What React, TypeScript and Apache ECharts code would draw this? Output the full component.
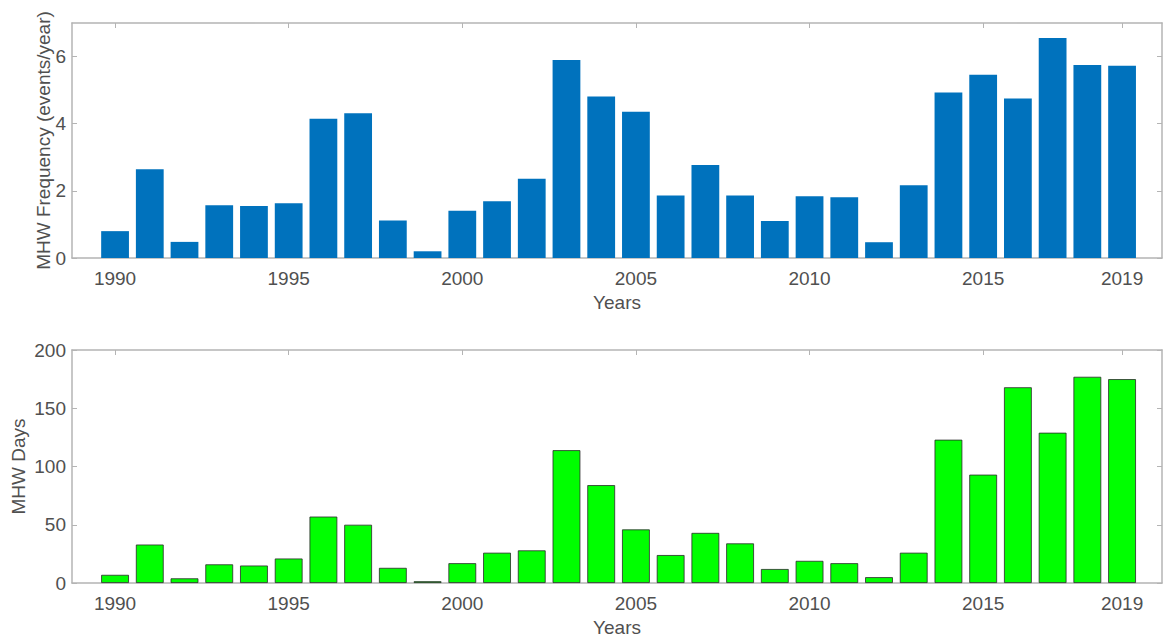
import React, { useEffect, useRef } from "react";
import * as echarts from "echarts";

const years = [1990, 1991, 1992, 1993, 1994, 1995, 1996, 1997, 1998, 1999, 2000, 2001, 2002, 2003, 2004, 2005, 2006, 2007, 2008, 2009, 2010, 2011, 2012, 2013, 2014, 2015, 2016, 2017, 2018, 2019];
const frequency = [0.8, 2.64, 0.48, 1.57, 1.55, 1.63, 4.15, 4.31, 1.12, 0.2, 1.41, 1.69, 2.36, 5.9, 4.81, 4.36, 1.86, 2.77, 1.86, 1.1, 1.84, 1.81, 0.47, 2.17, 4.93, 5.46, 4.75, 6.55, 5.75, 5.73];
const days = [7, 33, 4, 16, 15, 21, 57, 50, 13, 1.5, 17, 26, 28, 114, 84, 46, 24, 43, 34, 12, 19, 17, 5, 26, 123, 93, 168, 129, 177, 175];
const xTicks = [1990, 1995, 2000, 2005, 2010, 2015, 2019];
const freqTicks = [0, 2, 4, 6];
const daysTicks = [0, 50, 100, 150, 200];

const FONT = "'Liberation Sans', Arial, Helvetica, sans-serif";
const TEXT = "#505050";
const LINE = "#b4b4b4";
const FS = 19;

export default function App() {
  const ref = useRef<HTMLDivElement>(null);
  useEffect(() => {
    const chart = echarts.init(ref.current!, null, { renderer: "svg" });
    const xBottom = (gridIndex: number) => ({
      type: "value",
      gridIndex,
      position: "bottom",
      min: 1988.76,
      max: 2020.15,
      name: "Years",
      nameLocation: "middle",
      nameGap: 35,
      nameMoveOverlap: false,
      nameTextStyle: { color: TEXT, fontSize: FS, fontFamily: FONT },
      axisLine: { show: true, onZero: false, lineStyle: { color: LINE, width: 1.5 } },
      axisTick: { show: true, inside: true, length: 5, customValues: xTicks, lineStyle: { color: LINE } },
      axisLabel: { show: true, customValues: xTicks, margin: 11, color: TEXT, fontSize: FS, fontFamily: FONT, formatter: (v: number) => String(v) },
      splitLine: { show: false },
    });
    const xTop = (gridIndex: number) => ({
      type: "value",
      gridIndex,
      position: "top",
      min: 1988.76,
      max: 2020.15,
      axisLine: { show: true, onZero: false, lineStyle: { color: LINE, width: 1.5 } },
      axisTick: { show: true, inside: true, length: 5, customValues: xTicks, lineStyle: { color: LINE } },
      axisLabel: { show: false },
      splitLine: { show: false },
    });
    const yLeft = (gridIndex: number, max: number, ticks: number[], name: string, gap: number) => ({
      type: "value",
      gridIndex,
      position: "left",
      min: 0,
      max,
      name,
      nameLocation: "middle",
      nameGap: gap,
      nameMoveOverlap: false,
      nameTextStyle: { color: TEXT, fontSize: FS, fontFamily: FONT },
      axisLine: { show: true, lineStyle: { color: LINE, width: 1.5 } },
      axisTick: { show: true, inside: true, length: 5, customValues: ticks, lineStyle: { color: LINE } },
      axisLabel: { show: true, customValues: ticks, margin: 6, color: TEXT, fontSize: FS, fontFamily: FONT },
      splitLine: { show: false },
    });
    const yRight = (gridIndex: number, max: number, ticks: number[]) => ({
      type: "value",
      gridIndex,
      position: "right",
      min: 0,
      max,
      axisLine: { show: true, lineStyle: { color: LINE, width: 1.5 } },
      axisTick: { show: true, inside: true, length: 5, customValues: ticks, lineStyle: { color: LINE } },
      axisLabel: { show: false },
      splitLine: { show: false },
    });
    chart.setOption({
      animation: false,
      backgroundColor: "#ffffff",
      grid: [
        { left: 72, right: 2, top: 23, height: 235 },
        { left: 72, right: 2, top: 350, height: 233 },
      ],
      xAxis: [xBottom(0), xTop(0), xBottom(1), xTop(1)],
      yAxis: [
        yLeft(0, 7, freqTicks, "MHW Frequency (events/year)", 19),
        yRight(0, 7, freqTicks),
        yLeft(1, 200, daysTicks, "MHW Days", 44),
        yRight(1, 200, daysTicks),
      ],
      series: [
        {
          type: "bar",
          xAxisIndex: 0,
          yAxisIndex: 0,
          barWidth: "80%",
          data: years.map((y, i) => [y, frequency[i]]),
          itemStyle: { color: "#0072BD" },
        },
        {
          type: "bar",
          xAxisIndex: 2,
          yAxisIndex: 2,
          barWidth: "80%",
          data: years.map((y, i) => [y, days[i]]),
          itemStyle: { color: "#00FF00", borderColor: "#2a2a2a", borderWidth: 0.8 },
        },
      ],
    });
    return () => chart.dispose();
  }, []);
  return <div ref={ref} style={{ position: "fixed", left: 0, top: 0, width: 1164, height: 644 }} />;
}
